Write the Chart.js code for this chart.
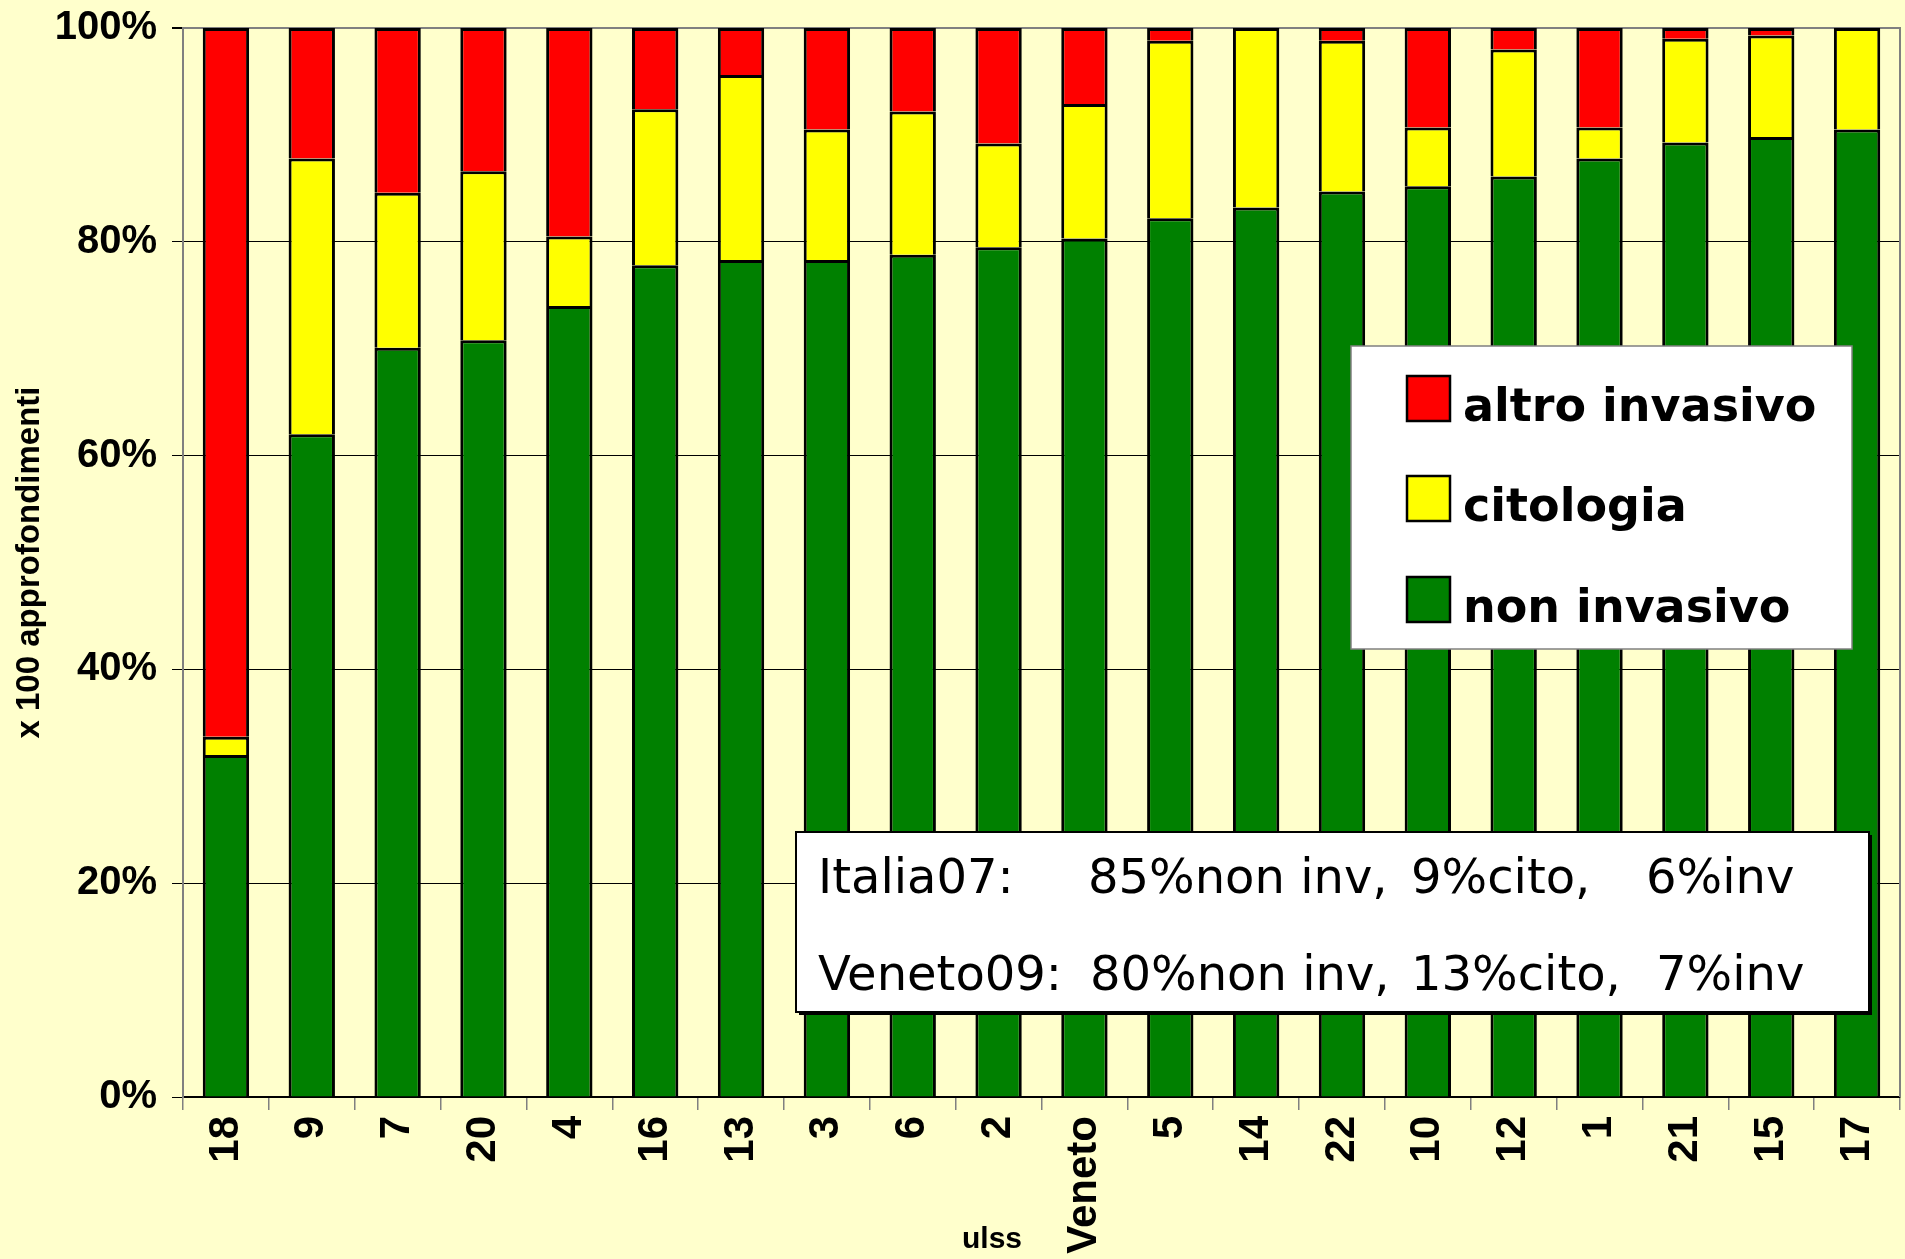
<!DOCTYPE html>
<html>
<head>
<meta charset="utf-8">
<title>Approfondimenti per ulss</title>
<script src="https://cdn.jsdelivr.net/npm/chart.js@4.4.1/dist/chart.umd.min.js"></script>
<style>
    html, body { margin: 0; padding: 0; background: #FFFFCC; }
    #wrap { position: relative; width: 1905px; height: 1259px; }
</style>
</head>
<body>
<div id="wrap"><canvas id="chart"></canvas></div>
<script>
// ---- Data (percent of all follow-up exams, per ulss) ----
const categories = ['18', '9', '7', '20', '4', '16', '13', '3', '6', '2', 'Veneto',
                    '5', '14', '22', '10', '12', '1', '21', '15', '17'];
const nonInvasivo   = [32.0, 62.0, 70.1, 70.8, 74.0, 77.8, 78.3, 78.3, 78.8, 79.5, 80.3,
                       82.2, 83.2, 84.7, 85.2, 86.1, 87.8, 89.3, 89.8, 90.5];
const citologia     = [1.7, 25.8, 14.5, 15.8, 6.5, 14.6, 17.3, 12.2, 13.4, 9.7, 12.6,
                       16.6, 16.8, 14.1, 5.5, 11.9, 2.9, 9.7, 9.5, 9.5];
const altroInvasivo = [66.3, 12.2, 15.4, 13.4, 19.5, 7.6, 4.4, 9.5, 7.8, 10.8, 7.1,
                       1.2, 0.0, 1.2, 9.3, 2.0, 9.3, 1.0, 0.7, 0.0];
const yMax = 100;
const yStep = 20;

const noteLines = [
    ['Italia07:', '85%non inv,', '9%cito,', '6%inv'],
    ['Veneto09:', '80%non inv,', '13%cito,', '7%inv']
];

Chart.defaults.font.family = '"Liberation Sans", Arial, sans-serif';
Chart.defaults.color = '#000';

// ---- Frame, legend box, note box and x title drawn on top ----
const overlay = {
    id: 'overlay',
    beforeDatasetsDraw(chart) {
        const { ctx, chartArea: a } = chart;
        ctx.save();
        ctx.strokeStyle = '#808080';
        ctx.lineWidth = 2;
        ctx.beginPath();
        ctx.moveTo(a.left, a.top);
        ctx.lineTo(a.right, a.top);
        ctx.lineTo(a.right, a.bottom);
        ctx.stroke();
        ctx.restore();
    },
    afterDraw(chart) {
        const ctx = chart.ctx;
        ctx.save();

        // legend (top to bottom: altro invasivo, citologia, non invasivo)
        ctx.fillStyle = '#fff';
        ctx.fillRect(1351, 346, 501, 303);
        ctx.strokeStyle = '#808080';
        ctx.lineWidth = 1.5;
        ctx.strokeRect(1351, 346, 501, 303);

        const sets = chart.data.datasets.slice().reverse();
        const rowTops = [376, 476, 577];
        ctx.font = 'bold 46px "DejaVu Sans", sans-serif';
        ctx.textBaseline = 'alphabetic';
        ctx.textAlign = 'left';
        sets.forEach((ds, i) => {
            const y = rowTops[i];
            ctx.fillStyle = ds.backgroundColor;
            ctx.fillRect(1407, y, 43, 45);
            ctx.strokeStyle = '#000';
            ctx.lineWidth = 2.5;
            ctx.strokeRect(1407, y, 43, 45);
            ctx.fillStyle = '#000';
            ctx.fillText(ds.label, 1463, y + 45);
        });

        // note box (thin shadow on right/bottom)
        ctx.fillStyle = '#000';
        ctx.fillRect(799, 835, 1073, 180);
        ctx.fillStyle = '#fff';
        ctx.fillRect(796, 832, 1073, 180);
        ctx.strokeStyle = '#000';
        ctx.lineWidth = 2;
        ctx.strokeRect(796, 832, 1073, 180);

        const segX = [[818, 1088, 1411, 1646], [818, 1090, 1411, 1656]];
        const baselines = [893, 990];
        ctx.font = '48px "DejaVu Sans", sans-serif';
        ctx.fillStyle = '#000';
        noteLines.forEach((parts, r) => {
            parts.forEach((txt, k) => ctx.fillText(txt, segX[r][k], baselines[r]));
        });

        // x axis title
        ctx.font = 'bold 30px "Liberation Sans", Arial, sans-serif';
        ctx.textAlign = 'center';
        ctx.fillText('ulss', 992, 1248);

        ctx.restore();
    }
};

new Chart(document.getElementById('chart'), {
    type: 'bar',
    data: {
        labels: categories,
        datasets: [
            { label: 'non invasivo',   data: nonInvasivo,   backgroundColor: '#008000' },
            { label: 'citologia',      data: citologia,     backgroundColor: '#FFFF00' },
            { label: 'altro invasivo', data: altroInvasivo, backgroundColor: '#FF0000' }
        ]
    },
    options: {
        responsive: true,
        maintainAspectRatio: false,
        animation: false,
        events: [],
        layout: { padding: { top: 28, right: 5, left: 0, bottom: 0 } },
        datasets: {
            bar: {
                categoryPercentage: 1,
                barPercentage: 0.54,
                borderColor: '#000',
                borderWidth: 3
            }
        },
        scales: {
            x: {
                stacked: true,
                grid: {
                    offset: true,
                    drawOnChartArea: false,
                    tickLength: 13,
                    color: '#808080',
                    lineWidth: 1.5
                },
                border: { display: true, color: '#000', width: 2 },
                ticks: {
                    autoSkip: false,
                    maxRotation: 90,
                    minRotation: 90,
                    padding: 6,
                    color: '#000',
                    font: { size: 42, weight: 'bold' }
                },
                afterFit(scale) {
                    scale.height = 162;
                    scale.paddingLeft = 0;
                    scale.paddingRight = 0;
                }
            },
            y: {
                stacked: true,
                min: 0,
                max: yMax,
                grid: {
                    color: c => (c.tick && c.tick.value === yMax) ? '#808080' : '#000',
                    lineWidth: c => (c.tick && c.tick.value === yMax) ? 2 : 1,
                    tickColor: '#000',
                    tickLength: 11
                },
                border: { color: '#808080', width: 2 },
                ticks: {
                    stepSize: yStep,
                    padding: 15,
                    color: '#000',
                    font: { size: 40, weight: 'bold' },
                    callback: v => v + '%'
                },
                title: {
                    display: true,
                    text: 'x 100 approfondimenti',
                    color: '#000',
                    font: { size: 33, weight: 'bold' },
                    padding: { top: 10, bottom: 0 }
                },
                afterFit(scale) {
                    scale.width = 183;
                    scale.paddingTop = 0;
                    scale.paddingBottom = 0;
                }
            }
        },
        plugins: {
            legend: { display: false },
            tooltip: { enabled: false }
        }
    },
    plugins: [overlay]
});
</script>
</body>
</html>
